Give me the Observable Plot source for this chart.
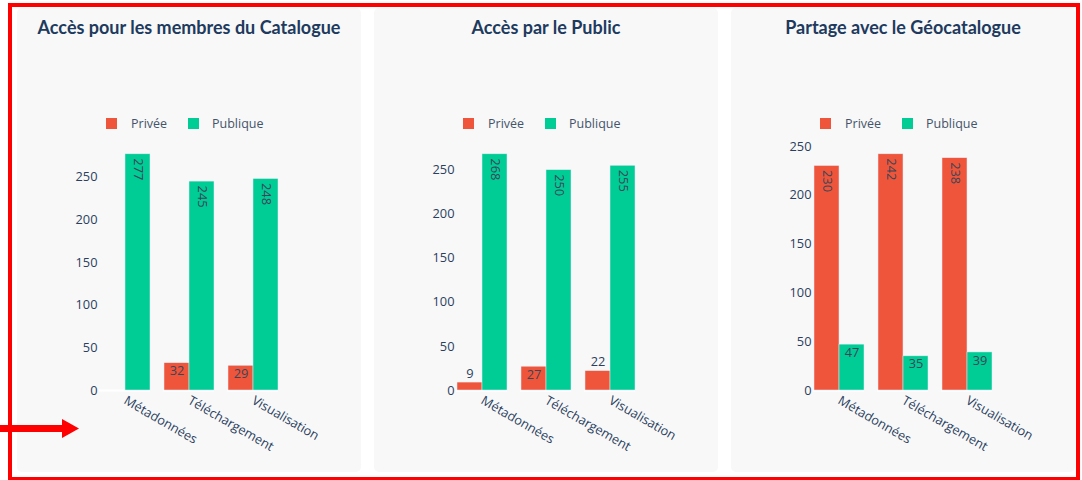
<!DOCTYPE html>
<html><head><meta charset="utf-8">
<script src="https://cdn.jsdelivr.net/npm/d3@7"></script>
<script src="https://cdn.jsdelivr.net/npm/@observablehq/plot@0.6"></script>
<style>
body{margin:0;background:#fff;width:1082px;height:480px;position:relative;overflow:hidden;font-family:"Open Sans",sans-serif;}
.panel{position:absolute;top:8px;width:344px;height:464px;background:#f8f8f8;border-radius:5px;}
.title{position:absolute;left:0;width:100%;top:7px;line-height:24px;text-align:center;font-family:Lato,sans-serif;font-weight:700;font-size:18px;color:#203a5e;white-space:nowrap;}
.legend{position:absolute;top:108px;left:0;width:100%;height:16px;font-size:12.5px;line-height:16px;color:#44546a;}
.legend .sw{position:absolute;top:2px;width:11px;height:11px;}
.legend .lb{position:absolute;top:0;white-space:nowrap;}
.frame{position:absolute;left:8px;top:3px;width:1072px;height:478px;box-sizing:border-box;border:4.5px solid #ff0000;pointer-events:none;}
.arrow{position:absolute;left:0;top:415px;}
</style></head>
<body>
<script>
const categories = ["Métadonnées", "Téléchargement", "Visualisation"];
const seriesNames = ["Privée", "Publique"];
const seriesColors = ["#EF553B", "#00CC96"];
const titles = ["Accès pour les membres du Catalogue", "Accès par le Public", "Partage avec le Géocatalogue"];
const membresPrivee = [null, 32, 29];
const membresPublique = [277, 245, 248];
const publicPrivee = [9, 27, 22];
const publicPublique = [268, 250, 255];
const geoPrivee = [230, 242, 238];
const geoPublique = [47, 35, 39];
const yTicks = [0, 50, 100, 150, 200, 250];

const panels = [
  {title: titles[0], privee: membresPrivee, publique: membresPublique},
  {title: titles[1], privee: publicPrivee, publique: publicPublique},
  {title: titles[2], privee: geoPrivee, publique: geoPublique}
];
const panelLefts = [17, 374, 731];
const ink = "#2a3f5f";
const fs = 12.8;

panels.forEach((p, k) => {
  const div = document.createElement("div");
  div.className = "panel";
  div.style.left = panelLefts[k] + "px";
  document.body.appendChild(div);

  const t = document.createElement("div");
  t.className = "title";
  t.textContent = p.title;
  div.appendChild(t);

  const lg = document.createElement("div");
  lg.className = "legend";
  const swX = [89, 171], lbX = [114, 195];
  seriesNames.forEach((s, i) => {
    const sw = document.createElement("div");
    sw.className = "sw"; sw.style.left = swX[i] + "px"; sw.style.background = seriesColors[i];
    const lb = document.createElement("div");
    lb.className = "lb"; lb.style.left = lbX[i] + "px"; lb.textContent = s;
    lg.appendChild(sw); lg.appendChild(lb);
  });
  div.appendChild(lg);

  const data = [];
  categories.forEach((c, i) => {
    if (p.privee[i] != null) data.push({cat: c, type: seriesNames[0], value: p.privee[i]});
    if (p.publique[i] != null) data.push({cat: c, type: seriesNames[1], value: p.publique[i]});
  });
  const ymax = d3.max(data, d => d.value) * 1.05;

  const rotated = data.filter(d => d.value >= 100);
  const inside = data.filter(d => d.value >= 25 && d.value < 100);
  const outside = data.filter(d => d.value < 25);

  const textCommon = {x: "type", fx: "cat", y: "value", text: d => String(d.value), fill: "#3a4656", fontSize: fs};

  const chart = Plot.plot({
    width: 344,
    height: 338,
    marginTop: 10,
    marginBottom: 80,
    marginLeft: 76,
    marginRight: 76,
    style: {background: "transparent", fontFamily: "Open Sans", fontSize: fs + "px", color: ink},
    fx: {domain: categories, paddingInner: 0.2, paddingOuter: 0.1, label: null},
    x: {domain: seriesNames, padding: 0, axis: null},
    y: {domain: [0, ymax], label: null},
    color: {domain: seriesNames, range: seriesColors},
    marks: [
      Plot.ruleY([0], {stroke: "white", strokeWidth: 2}),
      Plot.barY(data, {x: "type", fx: "cat", y: "value", fill: "type", stroke: "#E5ECF6", strokeWidth: 0.5}),
      Plot.text(rotated, {...textCommon, rotate: 90, textAnchor: "start", lineAnchor: "middle", dy: 4}),
      Plot.text(inside, {...textCommon, lineAnchor: "top", dy: 3}),
      Plot.text(outside, {...textCommon, fill: ink, lineAnchor: "bottom", dy: -5}),
      Plot.axisY({ticks: yTicks, tickSize: 0, tickPadding: 2, label: null, color: ink, fontSize: fs}),
      Plot.axisFx({anchor: "bottom", tickRotate: 30, tickSize: 0, tickPadding: 9, textAnchor: "start", label: null, color: ink, fontSize: fs})
    ]
  });
  chart.style.position = "absolute";
  chart.style.top = "124px";
  chart.style.left = "0px";
  div.appendChild(chart);
});

const frame = document.createElement("div");
frame.className = "frame";
document.body.appendChild(frame);

const ns = "http://www.w3.org/2000/svg";
const arrow = document.createElementNS(ns, "svg");
arrow.setAttribute("class", "arrow");
arrow.setAttribute("width", "82");
arrow.setAttribute("height", "26");
arrow.innerHTML = '<rect x="0" y="10" width="63" height="7" fill="#ff0000"/><polygon points="62,4 79,13.5 62,23" fill="#ff0000"/>';
document.body.appendChild(arrow);
</script>
</body></html>
